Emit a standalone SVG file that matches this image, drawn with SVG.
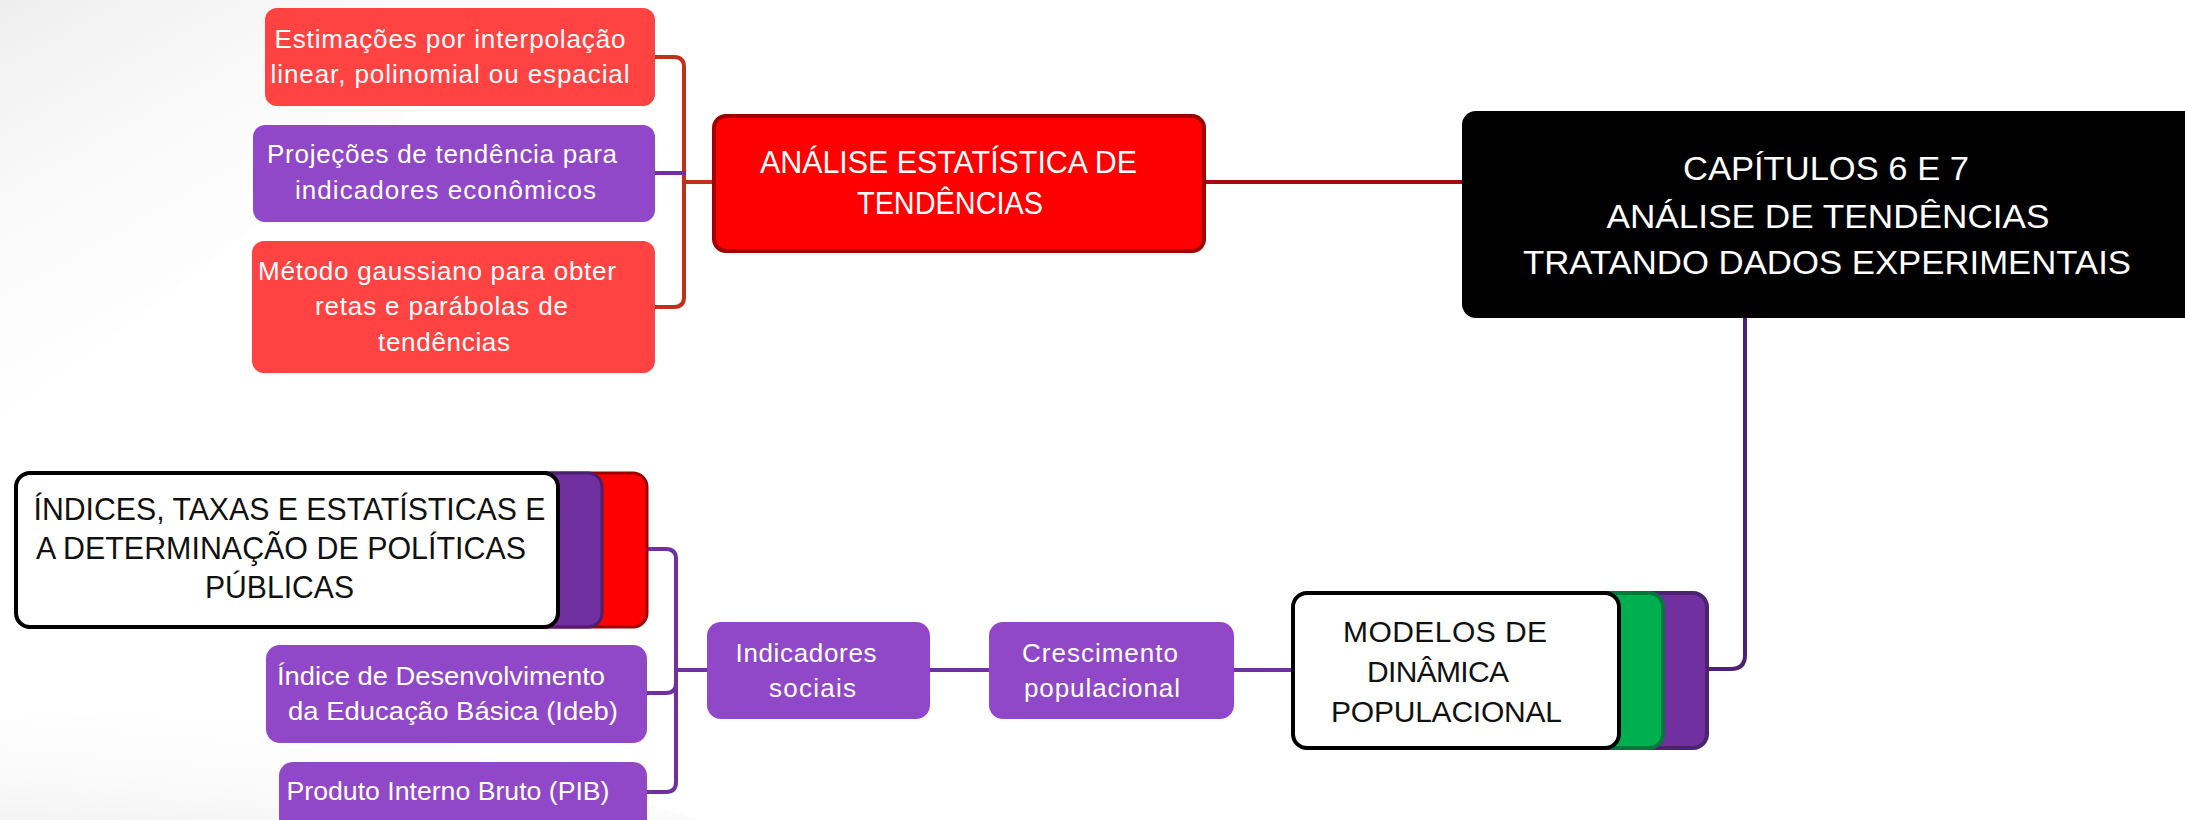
<svg xmlns="http://www.w3.org/2000/svg" width="2185" height="820" viewBox="0 0 2185 820">
<defs>
<linearGradient id="bg1" x1="0" y1="0" x2="0.6" y2="0.8">
<stop offset="0" stop-color="#EEEEEE"/>
<stop offset="1" stop-color="#FFFFFF" stop-opacity="0"/>
</linearGradient>
<linearGradient id="bg2" x1="0" y1="1" x2="0.5" y2="0">
<stop offset="0" stop-color="#F3F3F3"/>
<stop offset="1" stop-color="#FFFFFF" stop-opacity="0"/>
</linearGradient>
</defs>
<style>
.t{font-family:"Liberation Sans",Arial,sans-serif;text-anchor:middle}
.w{fill:#FFFFFF}
.k{fill:#111111}
.s26{font-size:26px}
.s30{font-size:30px}
.s31{font-size:31px}
.s34{font-size:34px}
.red{fill:#FF4343}
.pur{fill:#9148C8}
.ln{fill:none;stroke-width:4;stroke-linecap:butt}
</style>
<rect x="0" y="0" width="2185" height="820" fill="#FFFFFF"/>
<polygon points="0,0 560,0 0,420" fill="url(#bg1)"/>
<polygon points="0,720 0,820 700,820 300,700" fill="url(#bg2)"/>

<g id="connectors">
<path class="ln" d="M1204,182 H1462" stroke="#A50A0A"/>
<path class="ln" d="M714,182 H684" stroke="#C0301C"/>
<path class="ln" d="M655,57 H674 Q684,57 684,67 V297 Q684,307 674,307 H655" stroke="#C0301C"/>
<path class="ln" d="M655,173 H686" stroke="#7030A0"/>
<path class="ln" d="M1745,318 V655 Q1745,669 1731,669 H1707" stroke="#4E2272"/>
<path class="ln" d="M1293,670 H1234" stroke="#7030A0"/>
<path class="ln" d="M989,670 H930" stroke="#7030A0" stroke-width="3"/>
<path class="ln" d="M707,670 H676" stroke="#7030A0" stroke-width="3"/>
<path class="ln" d="M647,549 H666 Q676,549 676,559 V782 Q676,792 666,792 H647" stroke="#7030A0" stroke-width="3"/>
<path class="ln" d="M647,693 H666 Q676,693 676,683" stroke="#7030A0" stroke-width="3"/>
</g>

<g id="root">
<rect x="1462" y="111" width="760" height="207" rx="14" fill="#000000"/>
<text class="t w s34" x="1826" y="180" textLength="286" lengthAdjust="spacingAndGlyphs">CAPÍTULOS 6 E 7</text>
<text class="t w s34" x="1828" y="228" textLength="443" lengthAdjust="spacingAndGlyphs">ANÁLISE DE TENDÊNCIAS</text>
<text class="t w s34" x="1827" y="274" textLength="608" lengthAdjust="spacingAndGlyphs">TRATANDO DADOS EXPERIMENTAIS</text>
</g>

<g id="analise">
<rect x="714" y="116" width="490" height="135" rx="12" fill="#FF0000" stroke="#A00000" stroke-width="4"/>
<text class="t w s31" x="948.5" y="173" textLength="377" lengthAdjust="spacingAndGlyphs">ANÁLISE ESTATÍSTICA DE</text>
<text class="t w s31" x="950" y="214" textLength="186" lengthAdjust="spacingAndGlyphs">TENDÊNCIAS</text>
</g>

<g id="estimacoes">
<rect class="red" x="265" y="8" width="390" height="98" rx="12"/>
<text class="t w s26" x="450" y="48" textLength="351">Estimações por interpolação</text>
<text class="t w s26" x="450" y="83" textLength="359">linear, polinomial ou espacial</text>
</g>

<g id="projecoes">
<rect class="pur" x="253" y="125" width="402" height="97" rx="12"/>
<text class="t w s26" x="442" y="163" textLength="350">Projeções de tendência para</text>
<text class="t w s26" x="445.5" y="199" textLength="301">indicadores econômicos</text>
</g>

<g id="metodo">
<rect class="red" x="252" y="241" width="403" height="132" rx="12"/>
<text class="t w s26" x="437" y="280" textLength="358">Método gaussiano para obter</text>
<text class="t w s26" x="441.5" y="315" textLength="253">retas e parábolas de</text>
<text class="t w s26" x="444" y="351" textLength="132">tendências</text>
</g>

<g id="indices">
<rect x="90" y="473" width="557" height="154" rx="14" fill="#FF0000" stroke="#A00000" stroke-width="3"/>
<rect x="50" y="473" width="552" height="154" rx="14" fill="#7030A0" stroke="#4B1F6F" stroke-width="3"/>
<rect x="16" y="473" width="542" height="154" rx="14" fill="#FFFFFF" stroke="#000000" stroke-width="4"/>
<text class="t k s31" x="289.5" y="520" textLength="512" lengthAdjust="spacingAndGlyphs">ÍNDICES, TAXAS E ESTATÍSTICAS E</text>
<text class="t k s31" x="281" y="559" textLength="490" lengthAdjust="spacingAndGlyphs">A DETERMINAÇÃO DE POLÍTICAS</text>
<text class="t k s31" x="279.5" y="598" textLength="149" lengthAdjust="spacingAndGlyphs">PÚBLICAS</text>
</g>

<g id="ideb">
<rect class="pur" x="266" y="645" width="381" height="98" rx="14"/>
<text class="t w s26" x="441" y="685" textLength="328" lengthAdjust="spacingAndGlyphs">Índice de Desenvolvimento</text>
<text class="t w s26" x="453" y="720" textLength="330" lengthAdjust="spacingAndGlyphs">da Educação Básica (Ideb)</text>
</g>

<g id="pib">
<rect class="pur" x="279" y="762" width="368" height="80" rx="14"/>
<text class="t w s26" x="448" y="800" textLength="323" lengthAdjust="spacingAndGlyphs">Produto Interno Bruto (PIB)</text>
</g>

<g id="indicadores">
<rect class="pur" x="707" y="622" width="223" height="97" rx="14"/>
<text class="t w s26" x="806" y="662" textLength="141">Indicadores</text>
<text class="t w s26" x="812.5" y="697" textLength="87">sociais</text>
</g>

<g id="crescimento">
<rect class="pur" x="989" y="622" width="245" height="97" rx="14"/>
<text class="t w s26" x="1100" y="662" textLength="156">Crescimento</text>
<text class="t w s26" x="1102" y="697" textLength="156">populacional</text>
</g>

<g id="modelos">
<rect x="1370" y="593" width="337" height="155" rx="14" fill="#7030A0" stroke="#4E2272" stroke-width="4"/>
<rect x="1330" y="593" width="333" height="155" rx="14" fill="#00B050" stroke="#007A3A" stroke-width="4"/>
<rect x="1293" y="593" width="326" height="155" rx="14" fill="#FFFFFF" stroke="#000000" stroke-width="4"/>
<text class="t k s30" x="1445" y="642" textLength="204">MODELOS DE</text>
<text class="t k s30" x="1438" y="682" textLength="142">DINÂMICA</text>
<text class="t k s30" x="1446.5" y="722" textLength="231">POPULACIONAL</text>
</g>
</svg>
